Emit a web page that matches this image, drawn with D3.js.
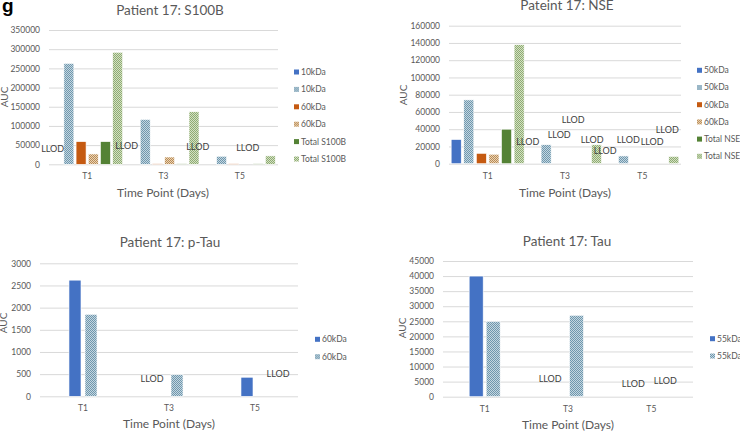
<!DOCTYPE html>
<html><head><meta charset="utf-8">
<script src="https://cdn.jsdelivr.net/npm/d3@7"></script>
<style>
html,body{margin:0;padding:0;background:#fff;}
svg text{font-family:Lato,"Open Sans",sans-serif;}
</style></head>
<body><svg id="c" width="740" height="431"></svg>
<script>
// ---------- DATA ----------
const categories = ["T1", "T3", "T5"];

const s100bSeries = ["10kDa", "10kDa", "60kDa", "60kDa", "Total S100B", "Total S100B"];
const s100bValues = [
  [0, 263000, 59000, 27000, 59000, 292000],
  [0, 117000, 1200, 19000, 1200, 137000],
  [0, 21000, 1200, 0, 1200, 22000]
];
const s100bLLOD = [[0, -0.33, 40000], [1, -0.52, 47700], [2, -0.95, 46000], [2, 3.15, 43000]];
const s100bTicks = [0, 50000, 100000, 150000, 200000, 250000, 300000, 350000];

const nseSeries = ["50kDa", "50kDa", "60kDa", "60kDa", "Total NSE", "Total NSE"];
const nseValues = [
  [28000, 74000, 12000, 11000, 40000, 138000],
  [0, 22000, 0, 0, 0, 22000],
  [0, 9000, 0, 0, 0, 8500]
];
const nseLLOD = [[1, -0.46, 25500], [1, 2.04, 33300], [1, 3.15, 51000], [1, 4.66, 27500],
                 [1, 5.69, 14700], [2, 1.38, 27500], [2, 3.28, 25500], [2, 4.48, 39400]];
const nseTicks = [0, 20000, 40000, 60000, 80000, 100000, 120000, 140000, 160000];

const ptauSeries = ["60kDa", "60kDa"];
const ptauValues = [[2620, 1850], [0, 490], [430, 0]];
const ptauLLOD = [[1, -0.56, 390], [2, 1.94, 503]];
const ptauTicks = [0, 500, 1000, 1500, 2000, 2500, 3000];

const tauSeries = ["55kDa", "55kDa"];
const tauValues = [[40000, 25000], [0, 27000], [0, 0]];
const tauLLOD = [[1, -0.55, 5870], [2, -0.56, 4300], [2, 1.32, 5300]];
const tauTicks = [0, 5000, 10000, 15000, 20000, 25000, 30000, 35000, 40000, 45000];

// ---------- STYLE ----------
const svg = d3.select("#c");
const defs = svg.append("defs");
function checker(id, c1, c2) {
  const p = defs.append("pattern").attr("id", id).attr("width", 2).attr("height", 2)
    .attr("patternUnits", "userSpaceOnUse");
  p.append("rect").attr("width", 2).attr("height", 2).attr("fill", c2);
  p.append("rect").attr("width", 1).attr("height", 1).attr("fill", c1);
  p.append("rect").attr("x", 1).attr("y", 1).attr("width", 1).attr("height", 1).attr("fill", c1);
}
checker("pBlue", "#6f97ad", "#c4d6e0");
checker("pOrange", "#b98b55", "#ead4b6");
checker("pGreen", "#8fac72", "#d3e0c4");
const fills6 = ["#4472c4", "url(#pBlue)", "#c55a11", "url(#pOrange)", "#548235", "url(#pGreen)"];
const fills2 = ["#4472c4", "url(#pBlue)"];
const textCol = "#595959";

svg.append("text").attr("x", 2).attr("y", 12).attr("font-size", 19).attr("font-weight", "bold")
  .style("font-family", "'Liberation Sans', Arial, sans-serif")
  .attr("fill", "#000").text("g");

function panel(cfg) {
  const g = svg.append("g");
  const x0 = d3.scaleBand().domain(categories).range([cfg.left, cfg.right])
    .paddingInner(cfg.padOuter).paddingOuter(cfg.padOuter / 2);
  const idx = d3.range(cfg.series.length);
  const x1 = d3.scaleBand().domain(idx).range([0, x0.bandwidth()]).paddingInner(cfg.padInner);
  const y = d3.scaleLinear().domain([0, cfg.ticks[cfg.ticks.length - 1]]).range([cfg.bottom, cfg.top]);

  const ya = g.append("g").attr("transform", `translate(${cfg.left},0)`)
    .call(d3.axisLeft(y).tickValues(cfg.ticks).tickSize(-(cfg.right - cfg.left)).tickPadding(9).tickFormat(d3.format("d")));
  ya.select(".domain").remove();
  ya.selectAll("line").attr("stroke", "#d9d9d9").attr("stroke-width", 1);
  ya.selectAll("text").attr("fill", textCol).attr("font-size", 8.5).attr("font-family", "Lato");

  const xa = g.append("g").attr("transform", `translate(0,${cfg.bottom})`)
    .call(d3.axisBottom(x0).tickSize(0).tickPadding(9));
  xa.select(".domain").remove();
  xa.selectAll("text").attr("fill", textCol).attr("font-size", 8.5).attr("font-family", "Lato");

  cfg.values.forEach((row, ci) => {
    g.selectAll(null).data(row).enter().append("rect")
      .attr("x", (d, i) => x0(categories[ci]) + x1(i))
      .attr("y", d => y(d))
      .attr("width", x1.bandwidth())
      .attr("height", d => cfg.bottom - y(d))
      .attr("fill", (d, i) => cfg.fills[i])
      .attr("stroke", "#fff").attr("stroke-width", 0.6);
  });

  g.selectAll(null).data(cfg.llod).enter().append("text")
    .attr("x", d => x0(categories[d[0]]) + d[1] * x1.step() + x1.bandwidth() / 2)
    .attr("y", d => y(d[2]))
    .attr("dy", "0.35em").attr("text-anchor", "middle")
    .attr("font-size", 9).attr("fill", "#404040").text("LLOD");

  g.append("text").attr("x", cfg.titleX).attr("y", cfg.titleY).attr("dy", "0.35em")
    .attr("text-anchor", "middle").attr("font-size", 13.5).attr("fill", textCol).text(cfg.title);
  g.append("text").attr("x", cfg.xtX).attr("y", cfg.xtY).attr("dy", "0.35em")
    .attr("text-anchor", "middle").attr("font-size", 12).attr("fill", textCol).text("Time Point (Days)");
  g.append("text").attr("transform", `translate(${cfg.ytX},${cfg.ytY}) rotate(-90)`).attr("dy", "0.35em")
    .attr("text-anchor", "middle").attr("font-size", 10).attr("fill", textCol).text("AUC");

  const lg = g.selectAll(null).data(cfg.series).enter().append("g")
    .attr("transform", (d, i) => `translate(${cfg.legX},${cfg.legY + i * cfg.legStep})`);
  lg.append("rect").attr("x", 0).attr("y", -2.5).attr("width", 5).attr("height", 5)
    .attr("fill", (d, i) => cfg.fills[i]);
  lg.append("text").attr("x", 7).attr("dy", "0.35em").attr("font-size", 8.5).attr("fill", textCol).text(d => d);
}

panel({ series: s100bSeries, values: s100bValues, llod: s100bLLOD, ticks: s100bTicks, fills: fills6,
  left: 49, right: 278, top: 30, bottom: 164.3, padOuter: 0.07, padInner: 0.18,
  title: "Patient 17: S100B", titleX: 170, titleY: 10, xtX: 163, xtY: 193, ytX: 4, ytY: 97,
  legX: 294, legY: 72, legStep: 17.4 });

panel({ series: nseSeries, values: nseValues, llod: nseLLOD, ticks: nseTicks, fills: fills6,
  left: 449, right: 681, top: 25.7, bottom: 163.7, padOuter: 0.056, padInner: 0.2,
  title: "Pateint 17: NSE", titleX: 567, titleY: 5, xtX: 565, xtY: 193, ytX: 403, ytY: 95,
  legX: 697, legY: 70.3, legStep: 17.2 });

panel({ series: ptauSeries, values: ptauValues, llod: ptauLLOD, ticks: ptauTicks, fills: fills2,
  left: 40, right: 298, top: 263.3, bottom: 396.3, padOuter: 0.674, padInner: 0.25,
  title: "Patient 17: p-Tau", titleX: 170, titleY: 242, xtX: 169, xtY: 424, ytX: 3, ytY: 323,
  legX: 315, legY: 339.3, legStep: 17.4 });

panel({ series: tauSeries, values: tauValues, llod: tauLLOD, ticks: tauTicks, fills: fills2,
  left: 443, right: 693, top: 261, bottom: 396.7, padOuter: 0.628, padInner: 0.176,
  title: "Patient 17: Tau", titleX: 567, titleY: 241, xtX: 568, xtY: 425, ytX: 402, ytY: 328,
  legX: 710, legY: 338.7, legStep: 17.3 });
</script></body></html>
